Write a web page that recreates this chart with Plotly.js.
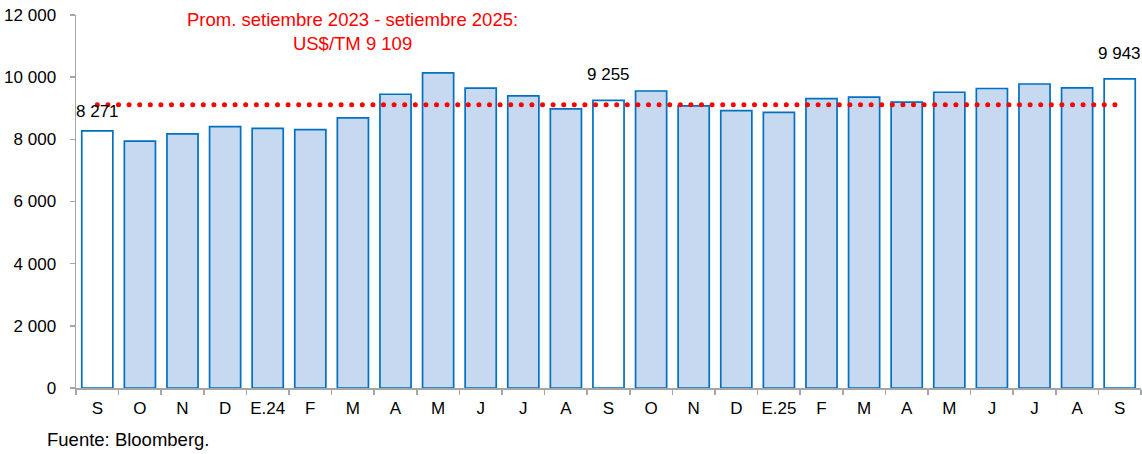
<!DOCTYPE html>
<html>
<head>
<meta charset="utf-8">
<script src="https://cdn.plot.ly/plotly-3.0.1.min.js"></script>
<style>
html,body{margin:0;padding:0;background:#fff;}
#chart{width:1142px;height:454px;}
.shapelayer path{stroke-linecap:round !important;}
</style>
</head>
<body>
<div id="chart"></div>
<script>
const months = ["S","O","N","D","E.24","F","M","A","M","J","J","A","S","O","N","D","E.25","F","M","A","M","J","J","A","S"];
const prices = [8271,7940,8175,8410,8355,8315,8690,9450,10135,9645,9400,8980,9255,9555,9075,8925,8870,9310,9355,9200,9515,9635,9780,9655,9943];
const highlighted = [0,12,24];
const promedio = 9109;
const promTexto = "Prom. setiembre 2023 - setiembre 2025:<br>US$/TM 9 109";
const fuente = "Fuente: Bloomberg.";

const idx = months.map((_, i) => i);
const fmt = v => String(v).replace(/\B(?=(\d{3})+(?!\d))/g, " ");
const blue = "#0070C0";
const fills = idx.map(i => highlighted.includes(i) ? "#FFFFFF" : "#C6D9F1");
const FONT = "Liberation Sans, Arial, sans-serif";

const bars = {
  type: "bar", x: idx, y: prices,
  marker: {color: fills, line: {color: blue, width: 1.7}},
  width: 0.73, hoverinfo: "skip", showlegend: false
};

const labelShift = [8, 14, 14];
const labelAnns = highlighted.map((i, k) => ({
  x: i, y: prices[i], xref: "x", yref: "y", text: fmt(prices[i]),
  showarrow: false, yanchor: "bottom", yshift: labelShift[k],
  font: {family: FONT, size: 17, color: "#000"}
}));

const pw = 1142 - 76 - 1, ph = 454 - 15 - 66;
const layout = {
  width: 1142, height: 454,
  margin: {l: 76, r: 1, t: 15, b: 66},
  paper_bgcolor: "#fff", plot_bgcolor: "#fff",
  separators: ". ",
  showlegend: false,
  font: {family: FONT, size: 17, color: "#000"},
  xaxis: {
    range: [-0.5, months.length - 0.5],
    tickmode: "array", tickvals: idx, ticktext: months,
    ticks: "", showgrid: false, zeroline: false,
    showline: true, linecolor: "#A6A6A6", linewidth: 1.5,
    tickfont: {size: 17}, ticklabelstandoff: 4,
    minor: {tickmode: "linear", tick0: -0.5, dtick: 1, ticks: "outside", ticklen: 5, tickcolor: "#A6A6A6", tickwidth: 1.5, showgrid: false}
  },
  yaxis: {
    range: [0, 12000], tickmode: "linear", tick0: 0, dtick: 2000,
    tickformat: ",d", ticks: "outside", ticklen: 5, tickcolor: "#A6A6A6", tickwidth: 1.5,
    showline: true, linecolor: "#A6A6A6", linewidth: 1.5,
    showgrid: false, zeroline: false, tickfont: {size: 17}, ticklabelstandoff: 10
  },
  shapes: [{
    type: "line", xref: "x", yref: "y",
    x0: 0, x1: months.length - 1, y0: promedio, y1: promedio,
    line: {color: "#FF0000", width: 5, dash: "0px,10.6px"}
  }],
  annotations: labelAnns.concat([
    {x: (352 - 76) / pw, y: (388 - 7) / ph, xref: "paper", yref: "paper", text: promTexto, showarrow: false,
     xanchor: "center", yanchor: "top", align: "center",
     font: {family: FONT, size: 18.5, color: "#FF0000"}},
    {x: (45 - 76) / pw, y: (388 - 452) / ph, xref: "paper", yref: "paper", text: fuente, showarrow: false,
     xanchor: "left", yanchor: "bottom",
     font: {family: FONT, size: 18.5, color: "#000"}}
  ])
};

Plotly.newPlot("chart", [bars], layout, {displayModeBar: false, staticPlot: true});
</script>
</body>
</html>
